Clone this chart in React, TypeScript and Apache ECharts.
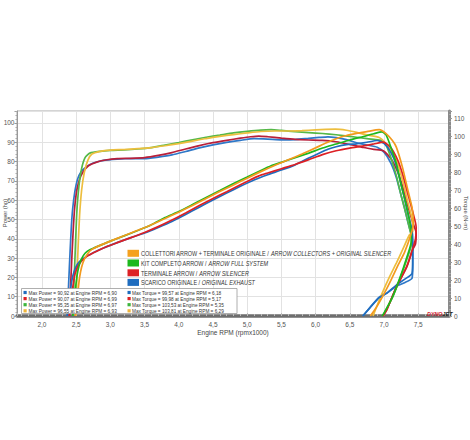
import React, { useEffect, useRef } from "react";
import * as echarts from "echarts";

// ---- Axis ranges / ticks ----
const rpmMin = 1.635;
const rpmMax = 7.95;
const powerMax = 106.2;
const torqueMax = 113.9;
const powerAxisName = "Power (hp)";
const torqueAxisName = "Torque (N-m)";

// ---- Legend / info texts ----
const legendIt = [
  "COLLETTORI ARROW + TERMINALE ORIGINALE",
  "KIT COMPLETO ARROW",
  "TERMINALE ARROW",
  "SCARICO ORIGINALE",
];
const legendEn = [
  "ARROW COLLECTORS + ORIGINAL SILENCER",
  "ARROW FULL SYSTEM",
  "ARROW SILENCER",
  "ORIGINAL EXHAUST",
];
const legendColors = ["#F5A11F", "#1DB81D", "#DD2025", "#1F6DBF"];

// info box order: blue, red, green, orange
const infoColors = ["#1F6DBF", "#DD2025", "#3DB53D", "#EFB53A"];
const maxPower = [90.92, 90.07, 95.35, 96.55];
const maxPowerRpm = [6.9, 6.99, 6.97, 6.93];
const maxTorque = [99.57, 99.98, 103.53, 103.81];
const maxTorqueRpm = [6.18, 5.17, 5.35, 6.29];

// ---- Series data: [rpm x1000, value] ----
const blueTorque = [[2.37,0],[2.39,18],[2.41,35],[2.43,50],[2.45,60],[2.48,69],[2.52,76],[2.57,80],[2.65,83],[2.75,85],[2.9,86.5],[3.1,87.2],[3.3,87.5],[3.5,87.4],[3.7,88.3],[3.9,89.5],[4.1,91.4],[4.3,93.4],[4.5,95.1],[4.7,96.5],[4.9,97.6],[5.1,98.5],[5.3,98.3],[5.5,97.9],[5.7,98],[5.9,98.7],[6.05,99.2],[6.18,99.57],[6.3,99.1],[6.45,98],[6.6,96.2],[6.75,95],[6.9,93.8],[7.0,91],[7.1,85],[7.18,77],[7.25,67],[7.3,60],[7.35,52],[7.4,45],[7.42,38],[7.42,28],[7.41,21],[7.3,18.5],[7.18,16.5],[7.05,13],[6.93,10.5],[6.8,5],[6.69,0]];
const bluePower = [[2.37,0],[2.39,6],[2.41,12],[2.43,17],[2.45,20.6],[2.48,24],[2.52,26.9],[2.57,28.9],[2.65,30.9],[2.75,32.8],[2.9,35.2],[3.1,38],[3.3,40.6],[3.5,43],[3.7,45.9],[3.9,49],[4.1,52.6],[4.3,56.4],[4.5,60.1],[4.7,63.7],[4.9,67.2],[5.1,70.5],[5.3,73.2],[5.5,75.6],[5.7,78.3],[5.9,81.8],[6.05,84.3],[6.18,86.4],[6.3,87.7],[6.45,88.8],[6.6,89.2],[6.75,90],[6.9,90.92],[7.0,89.4],[7.1,84.8],[7.18,78],[7.25,68],[7.3,61],[7.35,53],[7.4,46],[7.42,40],[7.42,30],[7.41,22],[7.3,19],[7.18,16],[7.05,12],[6.93,9.5],[6.8,4.5],[6.69,0]];
const redTorque = [[2.4,0],[2.42,18],[2.44,35],[2.46,50],[2.48,61],[2.51,70],[2.55,76],[2.6,80],[2.68,83.5],[2.8,85.5],[2.95,86.8],[3.1,87.4],[3.3,87.6],[3.5,88],[3.7,89.2],[3.9,90.8],[4.1,92.8],[4.3,94.7],[4.5,96.3],[4.7,97.6],[4.9,98.8],[5.05,99.6],[5.17,99.98],[5.3,99.6],[5.5,98.8],[5.7,98.1],[5.9,97.8],[6.1,97.6],[6.3,96.8],[6.5,95.3],[6.7,93.6],[6.85,92.6],[6.99,91.8],[7.1,87.5],[7.2,80],[7.28,71],[7.35,61],[7.42,52],[7.47,46],[7.46,40],[7.42,37],[7.33,27],[7.18,16],[7.04,3.5],[6.99,0]];
const redPower = [[2.4,0],[2.42,6],[2.44,12],[2.46,17.3],[2.48,21.3],[2.51,24.7],[2.55,27.2],[2.6,29.2],[2.68,31.4],[2.8,33.6],[2.95,36],[3.1,38],[3.3,40.6],[3.5,43.3],[3.7,46.3],[3.9,49.7],[4.1,53.4],[4.3,57.2],[4.5,60.9],[4.7,64.4],[4.9,68],[5.05,70.6],[5.17,72.6],[5.3,74.1],[5.5,76.3],[5.7,78.5],[5.9,81],[6.1,83.6],[6.3,85.6],[6.5,87],[6.7,88.1],[6.85,89.1],[6.99,90.07],[7.1,87.2],[7.2,80.8],[7.28,72.5],[7.35,63],[7.42,54],[7.47,46],[7.46,40],[7.42,35],[7.33,25.5],[7.18,15],[7.04,3.2],[6.98,0]];
const greenTorque = [[2.45,0],[2.47,20],[2.49,40],[2.51,58],[2.54,72],[2.58,82],[2.63,88],[2.7,90.5],[2.85,91.5],[3.0,92],[3.2,92.3],[3.4,92.8],[3.6,93.6],[3.8,95],[4.0,96.4],[4.2,97.9],[4.4,99.3],[4.6,100.5],[4.8,101.7],[5.0,102.6],[5.2,103.3],[5.35,103.53],[5.5,103.1],[5.7,102.4],[5.9,101.9],[6.1,101.4],[6.3,100.7],[6.5,99.8],[6.7,98.8],[6.85,98.1],[6.97,97.4],[7.03,95],[7.1,88],[7.18,78],[7.25,67],[7.32,57],[7.37,49],[7.4,44],[7.4,40],[7.33,31],[7.23,20.5],[7.12,10],[7.0,1.5],[6.98,0]];
const greenPower = [[2.45,0],[2.47,7],[2.49,14],[2.51,20.4],[2.54,25.7],[2.58,29.7],[2.63,32.5],[2.7,34.3],[2.85,36.6],[3.0,38.8],[3.2,41.5],[3.4,44.3],[3.6,47.3],[3.8,51],[4.0,54.1],[4.2,57.7],[4.4,61.4],[4.6,65],[4.8,68.6],[5.0,72],[5.2,75.4],[5.35,77.8],[5.5,79.6],[5.7,82],[5.9,84.4],[6.1,87],[6.3,89.1],[6.5,91.2],[6.7,93],[6.85,94.4],[6.97,95.35],[7.03,93.8],[7.1,87.5],[7.18,79],[7.25,68],[7.32,58],[7.37,50],[7.4,43],[7.4,39],[7.33,30],[7.23,19.5],[7.12,9.5],[7.0,1.5],[6.97,0]];
const orangeTorque = [[2.49,0],[2.51,20],[2.53,40],[2.55,56],[2.58,70],[2.62,80],[2.67,86.5],[2.73,90],[2.85,91.5],[3.0,92.2],[3.2,92.5],[3.4,93],[3.6,93.6],[3.8,94.6],[4.0,95.8],[4.2,97.2],[4.4,98.6],[4.6,99.8],[4.8,100.8],[5.0,101.7],[5.2,102.5],[5.4,102.8],[5.6,102.8],[5.8,103],[6.0,103.4],[6.15,103.7],[6.29,103.81],[6.45,103.2],[6.6,102],[6.75,100.6],[6.93,99.2],[7.03,95.7],[7.12,90.5],[7.18,86.8],[7.27,75.4],[7.35,63],[7.41,54],[7.42,47],[7.37,45],[7.27,36.7],[7.18,29.4],[7.08,21.7],[6.98,13.3],[6.89,5],[6.84,0]];
const orangePower = [[2.49,0],[2.51,7],[2.53,14],[2.55,20],[2.58,25.4],[2.62,29.4],[2.67,32.4],[2.73,34.5],[2.85,36.6],[3.0,38.8],[3.2,41.6],[3.4,44.4],[3.6,47.3],[3.8,50.5],[4.0,53.8],[4.2,57.3],[4.4,60.9],[4.6,64.5],[4.8,67.9],[5.0,71.4],[5.2,74.8],[5.4,78],[5.6,80.9],[5.8,83.9],[6.0,87.1],[6.15,89.6],[6.29,91.7],[6.45,93.5],[6.6,94.6],[6.75,95.5],[6.93,96.55],[7.03,94.5],[7.12,91],[7.18,87.5],[7.27,77],[7.35,65],[7.41,56],[7.43,48],[7.4,43],[7.3,33],[7.2,26],[7.1,18.5],[7.0,11.5],[6.88,4],[6.8,0]];

const comma = (v: number, d: number) => v.toFixed(d).replace(".", ",");

function line(name: string, data: number[][], color: string, yAxisIndex: number) {
  return {
    name,
    type: "line",
    data,
    yAxisIndex,
    showSymbol: false,
    symbol: "none",
    smooth: 0.2,
    lineStyle: { color, width: 1.7 },
    itemStyle: { color },
  };
}

export default function App() {
  const ref = useRef<HTMLDivElement>(null);
  useEffect(() => {
    const chart = echarts.init(ref.current!, null, { renderer: "svg" });
    const font = "'Liberation Sans', Arial, sans-serif";
    const graphic: any[] = [];
    const legendY = [253.3, 263, 272.8, 282.4];
    legendIt.forEach((t, i) => {
      graphic.push({
        type: "rect",
        shape: { x: 127.5, y: legendY[i] - 3.5, width: 11.5, height: 7 },
        style: { fill: legendColors[i] },
        z: 100,
      });
      graphic.push({
        type: "text",
        x: 141,
        y: legendY[i],
        scaleX: 0.78,
        style: {
          text: `{n|${t} / }{i|${legendEn[i]}}`,
          verticalAlign: "middle",
          fill: "#333",
          rich: {
            n: { fontSize: 7, fontFamily: font, fill: "#333" },
            i: { fontSize: 7, fontFamily: font, fontStyle: "italic", fill: "#333" },
          },
        },
        z: 100,
      });
    });
    // info box
    graphic.push({
      type: "rect",
      shape: { x: 21.5, y: 288.5, width: 215.5, height: 25 },
      style: { fill: "#fff", stroke: "#9a9a9a", lineWidth: 0.8 },
      z: 100,
    });
    for (let i = 0; i < 4; i++) {
      const y = 292.5 + i * 6.1;
      graphic.push({ type: "rect", shape: { x: 23.5, y: y - 1.6, width: 3.2, height: 3.2 }, style: { fill: infoColors[i] }, z: 101 });
      graphic.push({
        type: "text", x: 28.5, y, scaleX: 0.86,
        style: { text: `Max Power = ${comma(maxPower[i], 2)} at Engine RPM = ${comma(maxPowerRpm[i], 2)}`, fontSize: 5.5, fontFamily: font, fill: "#333", verticalAlign: "middle" },
        z: 101,
      });
      graphic.push({ type: "rect", shape: { x: 127.5, y: y - 1.6, width: 3.2, height: 3.2 }, style: { fill: infoColors[i] }, z: 101 });
      graphic.push({
        type: "text", x: 132, y, scaleX: 0.86,
        style: { text: `Max Torque = ${comma(maxTorque[i], 2)} at Engine RPM = ${comma(maxTorqueRpm[i], 2)}`, fontSize: 5.5, fontFamily: font, fill: "#333", verticalAlign: "middle" },
        z: 101,
      });
    }
    // axis names (rotated)
    graphic.push({
      type: "text", x: 5, y: 213, rotation: Math.PI / 2,
      style: { text: powerAxisName, fontSize: 5.8, fontFamily: font, fill: "#444", align: "center", verticalAlign: "middle" },
      z: 102,
    });
    graphic.push({
      type: "text", x: 465.5, y: 213, rotation: -Math.PI / 2,
      style: { text: torqueAxisName, fontSize: 5.8, fontFamily: font, fill: "#444", align: "center", verticalAlign: "middle" },
      z: 102,
    });
    // logo
    graphic.push({
      type: "text", x: 427, y: 313.5, scaleX: 0.9,
      style: {
        text: "{r|DYNO}{k|JET}",
        verticalAlign: "middle",
        rich: {
          r: { fontSize: 6, fontWeight: "bold", fontStyle: "italic", fill: "#D2202E", fontFamily: font },
          k: { fontSize: 6, fontWeight: "bold", fontStyle: "italic", fill: "#222", fontFamily: font },
        },
      },
      z: 102,
    });

    const axisLabelStyle = { fontSize: 6.5, color: "#555", fontFamily: font };

    chart.setOption({
      animation: false,
      backgroundColor: "#fff",
      grid: {
        left: 17, right: 21, top: 111, bottom: 124,
        containLabel: false,
        outerBoundsMode: "none",
        show: true, borderColor: "#a8a8a8", borderWidth: 1,
      },
      xAxis: {
        type: "value",
        min: rpmMin,
        max: rpmMax,
        splitNumber: 13,
        name: "Engine RPM (rpmx1000)",
        nameLocation: "middle",
        nameGap: 11,
        nameTextStyle: { fontSize: 6.5, color: "#444", fontFamily: font },
        axisLine: { show: true, lineStyle: { color: "#6e6e6e", width: 3.5 } },
        axisTick: { show: true, inside: true, length: 3, lineStyle: { color: "#bbb" } },
        minorTick: { show: true, splitNumber: 5, length: 2, lineStyle: { color: "#bbb" } },
        axisLabel: { ...axisLabelStyle, margin: 5, showMinLabel: false, showMaxLabel: false, formatter: (v: number) => comma(v, 1) },
        splitLine: { show: true, lineStyle: { color: "#e2e2e2", width: 1 } },
      },
      yAxis: [
        {
          type: "value",
          position: "left",
          min: 0,
          max: powerMax,
          interval: 10,
          axisLine: { show: true, lineStyle: { color: "#999", width: 1 } },
          axisTick: { show: true, length: 2.5, lineStyle: { color: "#999" } },
          minorTick: { show: true, splitNumber: 5, length: 1.5, lineStyle: { color: "#aaa" } },
          axisLabel: { ...axisLabelStyle, margin: 2.5, showMaxLabel: false },
          splitLine: { show: true, lineStyle: { color: "#e2e2e2", width: 1 } },
        },
        {
          type: "value",
          position: "right",
          min: 0,
          max: torqueMax,
          interval: 10,
          axisLine: { show: true, lineStyle: { color: "#8a8a8a", width: 3 } },
          axisTick: { show: true, length: 3, lineStyle: { color: "#999" } },
          minorTick: { show: true, splitNumber: 5, length: 2, lineStyle: { color: "#aaa" } },
          axisLabel: { ...axisLabelStyle, margin: 5, showMaxLabel: false },
          splitLine: { show: false },
        },
      ],
      series: [
        line("Scarico originale torque", blueTorque, "#2F78C8", 1),
        line("Terminale Arrow torque", redTorque, "#B81F3A", 1),
        line("Kit completo torque", greenTorque, "#55B848", 1),
        line("Collettori torque", orangeTorque, "#EDBE3E", 1),
        line("Scarico originale power", bluePower, "#1F6DBF", 0),
        line("Terminale Arrow power", redPower, "#DD2025", 0),
        line("Kit completo power", greenPower, "#1DB81D", 0),
        line("Collettori power", orangePower, "#F39A1E", 0),
      ],
      graphic,
    });
    return () => chart.dispose();
  }, []);
  return (
    <div
      ref={ref}
      style={{ position: "absolute", left: 0, top: 0, width: 470, height: 440, background: "#fff" }}
    />
  );
}
